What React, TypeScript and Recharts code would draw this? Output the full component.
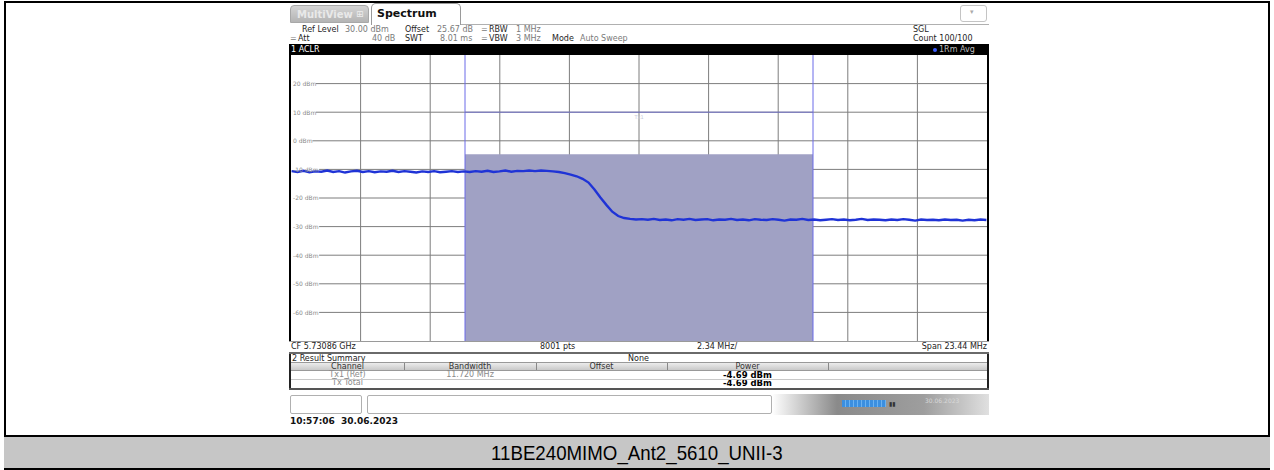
import React from 'react';
import { ComposedChart, Line, XAxis, YAxis, CartesianGrid, ReferenceArea, ReferenceLine, Label } from 'recharts';

// frequency offset from CF 5.73086 GHz, MHz
const FREQ_MHZ = [
  -11.7, -11.5, -11.3, -11.1, -10.9, -10.7, -10.5, -10.3, -10.1, -9.9,
  -9.7, -9.5, -9.3, -9.1, -8.9, -8.7, -8.5, -8.3, -8.1, -7.9,
  -7.7, -7.5, -7.3, -7.1, -6.9, -6.7, -6.5, -6.3, -6.1, -5.9,
  -5.7, -5.5, -5.3, -5.1, -4.9, -4.7, -4.5, -4.3, -4.1, -3.9,
  -3.7, -3.5, -3.3, -3.1, -2.9, -2.7, -2.5, -2.3, -2.1, -1.9,
  -1.7, -1.5, -1.3, -1.1, -0.9, -0.7, -0.5, -0.3, -0.1, 0.1,
  0.3, 0.5, 0.7, 0.9, 1.1, 1.3, 1.5, 1.7, 1.9, 2.1,
  2.3, 2.5, 2.7, 2.9, 3.1, 3.3, 3.5, 3.7, 3.9, 4.1,
  4.3, 4.5, 4.7, 4.9, 5.1, 5.3, 5.5, 5.7, 5.9, 6.1,
  6.3, 6.5, 6.7, 6.9, 7.1, 7.3, 7.5, 7.7, 7.9, 8.1,
  8.3, 8.5, 8.7, 8.9, 9.1, 9.3, 9.5, 9.7, 9.9, 10.1,
  10.3, 10.5, 10.7, 10.9, 11.1, 11.3, 11.5, 11.7,
];

// 1Rm Avg trace, dBm
const TRACE_DBM = [
  -10.6, -10.9, -10.5, -11.0, -10.7, -10.8, -10.4, -10.9, -10.6, -11.1,
  -10.7, -10.5, -10.9, -10.6, -11.0, -10.7, -10.8, -10.5, -10.9, -10.6,
  -10.8, -11.1, -10.7, -10.9, -10.6, -11.0, -10.8, -10.6, -10.9, -10.7,
  -10.9, -10.6, -10.8, -10.5, -10.9, -10.7, -10.4, -10.8, -10.5, -10.6,
  -10.4, -10.6, -10.4, -10.5, -10.7, -10.9, -11.3, -11.8, -12.4, -13.3,
  -14.6, -17.0, -19.8, -22.4, -24.8, -26.3, -27.0, -27.3, -27.5, -27.4,
  -27.6, -27.3, -27.7, -27.5, -27.8, -27.4, -27.6, -27.3, -27.7, -27.5,
  -27.4, -27.8, -27.5, -27.6, -27.3, -27.7, -27.5, -27.8, -27.4, -27.6,
  -27.7, -27.4, -27.6, -27.9, -27.5, -27.6, -27.3, -27.7, -27.5, -27.8,
  -27.6, -27.4, -27.7, -27.5, -27.8, -27.6, -27.3, -27.7, -27.5, -27.6,
  -27.8, -27.5, -27.7, -27.4, -27.6, -27.9, -27.5, -27.7, -27.6, -27.8,
  -27.5, -27.7, -27.6, -27.9, -27.6, -27.8, -27.5, -27.7,
];

const Y_TICKS = [20, 10, 0, -10, -20, -30, -40, -50, -60];
const REF_LEVEL = 30;
const BOTTOM_LEVEL = -70;
const SPAN_MHZ = 23.44;
const X_DIVS = [-9.376, -7.032, -4.688, -2.344, 0, 2.344, 4.688, 7.032, 9.376];
const CHANNEL_BW_MHZ = 11.72;
const CHANNEL_POWER_DBM = -4.69;

const TABLE_COLUMNS = ['Channel', 'Bandwidth', 'Offset', 'Power'];
const TABLE_ROWS = [
  ['Tx1 (Ref)', '11.720 MHz', '', '-4.69 dBm'],
  ['Tx Total', '', '', '-4.69 dBm'],
];

const CAPTION = '11BE240MIMO_Ant2_5610_UNII-3';

const UI = '"DejaVu Sans", Verdana, sans-serif';
const COL_EDGES = [291, 404, 536, 667, 828, 987];

const data = FREQ_MHZ.map((f, i) => ({ f, dbm: TRACE_DBM[i] }));
const half = SPAN_MHZ / 2;
const chHalf = CHANNEL_BW_MHZ / 2;

const abs = (x: number, y: number, extra: React.CSSProperties = {}): React.CSSProperties => ({
  position: 'absolute', left: x, top: y, ...extra,
});

function T({ x, y, children, style }: { x: number; y: number; children: React.ReactNode; style?: React.CSSProperties }) {
  return (
    <div style={abs(x, y, { fontFamily: UI, fontSize: 8, lineHeight: '9px', whiteSpace: 'nowrap', color: '#7a7a7a', ...style })}>
      {children}
    </div>
  );
}

const B: React.CSSProperties = { color: '#1e1e1e' };

function yLabel(v: number) {
  return `${v} dBm`;
}

function HLine(props: any) {
  const v = Y_TICKS[props.index] ?? 0;
  const inset = 5 + yLabel(v).length * 3.3;
  return <line key={props.key} x1={props.x1 + inset} y1={props.y1} x2={props.x2} y2={props.y2} stroke="#7d7d7d" strokeWidth={1} />;
}

function Spectrum() {
  return (
    <ComposedChart width={696} height={286} data={data} margin={{ top: 0, right: 0, bottom: 0, left: 0 }}>
      <XAxis dataKey="f" type="number" domain={[-half, half]} ticks={X_DIVS} hide allowDataOverflow />
      <YAxis type="number" domain={[BOTTOM_LEVEL, REF_LEVEL]} ticks={Y_TICKS} mirror
        axisLine={false} tickLine={false} interval={0} tickMargin={0}
        tick={(p: any) => (
          <text key={p.index} x={2} y={p.y} dy={2.3} fontFamily={UI} fontSize={6} fill="#8a8a8a">
            {yLabel(p.payload.value)}
          </text>
        )} />
      <CartesianGrid stroke="#7d7d7d" strokeDasharray="0" horizontalValues={Y_TICKS} verticalValues={X_DIVS}
        horizontal={(p: any) => <HLine {...p} />} />
      <ReferenceArea x1={-chHalf} x2={chHalf} y1={BOTTOM_LEVEL} y2={CHANNEL_POWER_DBM}
        fill="#a0a1c4" fillOpacity={1} stroke="none" ifOverflow="visible" />
      <ReferenceLine x={-chHalf} stroke="#6a6ae8" strokeWidth={1} />
      <ReferenceLine x={chHalf} stroke="#6a6ae8" strokeWidth={1} />
      <ReferenceLine segment={[{ x: -chHalf, y: 10 }, { x: chHalf, y: 10 }]} stroke="#7272c8" strokeWidth={1}>
        <Label value="Tx1" position="center" dy={5} fontSize={5} fill="#c8c8d8" fontFamily={UI} />
      </ReferenceLine>
      <Line dataKey="dbm" type="linear" stroke="#1f33d6" strokeWidth={2.4} dot={false} isAnimationActive={false} />
    </ComposedChart>
  );
}

export default function App() {
  return (
    <div style={{ position: 'absolute', left: 0, top: 0, width: 1274, height: 470, background: '#fff', overflow: 'hidden' }}>
      {/* outer frame */}
      <div style={abs(4, 1, { width: 1262, height: 465, border: '2px solid #000' })} />

      {/* tabs */}
      <div style={abs(290, 5, { width: 79, height: 18, borderRadius: '4px 4px 0 0', border: '1px solid #a8a8a8',
        background: 'linear-gradient(#d4d4d4, #b4b4b4)', boxSizing: 'border-box' })} />
      <T x={297} y={9} style={{ fontSize: 10, lineHeight: '11px', fontWeight: 'bold', color: '#e9e9e9' }}>MultiView</T>
      <T x={356} y={9} style={{ fontSize: 9, lineHeight: '11px', color: '#eeeeee' }}>⊞</T>
      <div style={abs(371, 3, { width: 90, height: 22, borderRadius: '5px 5px 0 0', border: '1px solid #9a9a9a',
        borderBottom: 'none', background: '#fff', boxSizing: 'border-box' })} />
      <T x={377} y={8} style={{ fontSize: 11, lineHeight: '12px', fontWeight: 'bold', color: '#111' }}>Spectrum</T>
      <div style={abs(461, 24, { width: 528, height: 1, background: '#b0b0b0' })} />
      <div style={abs(960, 5, { width: 27, height: 17, borderRadius: 3, border: '1px solid #c4c4c4', boxSizing: 'border-box' })} />
      <T x={970} y={8} style={{ fontSize: 7, color: '#aaa' }}>▾</T>

      {/* header info */}
      <T x={302} y={25}><span style={B}>Ref Level</span></T>
      <T x={345} y={25}>30.00 dBm</T>
      <T x={405} y={25}><span style={B}>Offset</span></T>
      <T x={437} y={25}>25.67 dB</T>
      <T x={481} y={25}>=</T>
      <T x={489} y={25}><span style={B}>RBW</span></T>
      <T x={516} y={25}>1 MHz</T>
      <T x={290} y={34}>=</T>
      <T x={298} y={34}><span style={B}>Att</span></T>
      <T x={372} y={34}>40 dB</T>
      <T x={405} y={34}><span style={B}>SWT</span></T>
      <T x={440} y={34}>8.01 ms</T>
      <T x={481} y={34}>=</T>
      <T x={489} y={34}><span style={B}>VBW</span></T>
      <T x={516} y={34}>3 MHz</T>
      <T x={552} y={34}><span style={B}>Mode</span></T>
      <T x={580} y={34}>Auto Sweep</T>
      <T x={913} y={25} style={B}>SGL</T>
      <T x={913} y={34} style={B}>Count 100/100</T>

      {/* ACLR bar */}
      <div style={abs(289, 44, { width: 700, height: 11, background: '#000' })} />
      <T x={291} y={45} style={{ color: '#fff', fontSize: 8 }}>1 ACLR</T>
      <div style={abs(933, 48, { width: 4, height: 4, borderRadius: 2, background: '#3a5cff' })} />
      <T x={939} y={45} style={{ color: '#bdbdbd', fontSize: 8 }}>1Rm Avg</T>

      {/* plot frame */}
      <div style={abs(289, 55, { width: 2, height: 286, background: '#000' })} />
      <div style={abs(987, 55, { width: 2, height: 286, background: '#000' })} />
      <div style={abs(291, 55)}>
        <Spectrum />
      </div>

      {/* footer row */}
      <div style={abs(289, 341, { width: 700, height: 1, background: '#9a9a9a' })} />
      <T x={291} y={342} style={{ color: '#222' }}>CF 5.73086 GHz</T>
      <T x={540} y={342} style={{ color: '#222' }}>8001 pts</T>
      <T x={697} y={342} style={{ color: '#222' }}>2.34 MHz/</T>
      <div style={abs(787, 342, { width: 200, textAlign: 'right', fontFamily: UI, fontSize: 8, lineHeight: '9px', color: '#222' })}>Span 23.44 MHz</div>
      <div style={abs(289, 352, { width: 700, height: 2, background: '#6a6a6a' })} />

      {/* result summary */}
      <div style={abs(289, 354, { width: 2, height: 36, background: '#222' })} />
      <div style={abs(987, 354, { width: 2, height: 36, background: '#222' })} />
      <T x={292} y={354} style={{ color: '#222' }}>2 Result Summary</T>
      <T x={628} y={354} style={{ color: '#222' }}>None</T>
      <div style={abs(291, 362, { width: 696, height: 9, background: 'linear-gradient(#ececec, #c9c9c9)',
        borderTop: '1px solid #999', borderBottom: '1px solid #999', boxSizing: 'border-box' })} />
      {TABLE_COLUMNS.map((c, i) => (
        <div key={c} style={abs(COL_EDGES[i], 362, { width: COL_EDGES[i + 1] - COL_EDGES[i], textAlign: 'center',
          fontFamily: UI, fontSize: 8, lineHeight: '9px', color: '#333' })}>{c}</div>
      ))}
      {COL_EDGES.slice(1, 5).map((x) => (
        <div key={x} style={abs(x, 363, { width: 1, height: 7, background: '#888' })} />
      ))}
      {TABLE_ROWS.map((row, r) => (
        <React.Fragment key={r}>
          {row.map((cell, i) => (
            <div key={i} style={abs(COL_EDGES[i], 371 + r * 8, { width: COL_EDGES[i + 1] - COL_EDGES[i], textAlign: 'center',
              fontFamily: UI, fontSize: i === 3 ? 8.5 : 8, lineHeight: '8px', whiteSpace: 'nowrap',
              color: i === 3 ? '#000' : '#8a8a8a', fontWeight: i === 3 ? 'bold' : 'normal' })}>{cell}</div>
          ))}
        </React.Fragment>
      ))}
      <div style={abs(291, 379, { width: 696, height: 1, background: '#c8c8c8' })} />
      <div style={abs(289, 388, { width: 700, height: 2, background: '#555' })} />

      {/* status bar */}
      <div style={abs(290, 395, { width: 72, height: 19, border: '1px solid #b0b0b0', borderRadius: 2, boxSizing: 'border-box' })} />
      <div style={abs(367, 395, { width: 405, height: 19, border: '1px solid #b0b0b0', borderRadius: 2, boxSizing: 'border-box' })} />
      <div style={abs(772, 394, { width: 217, height: 21, background: 'linear-gradient(90deg, #ffffff 0%, #8a8a8a 30%, #9e9e9e 70%, #e0e0e0 100%)' })} />
      <div style={abs(842, 400, { width: 44, height: 7, background: 'repeating-linear-gradient(90deg, #3b8fe0 0px, #3b8fe0 3px, #6cb2f0 3px, #6cb2f0 4px)' })} />
      <T x={889} y={399} style={{ color: '#333', fontSize: 6 }}>▮▮</T>
      <T x={925} y={396} style={{ color: '#d8d8d8', fontSize: 6 }}>30.06.2023</T>

      <T x={290} y={416} style={{ color: '#111', fontWeight: 'bold', fontSize: 9, lineHeight: '10px' }}>10:57:06&nbsp;&nbsp;30.06.2023</T>

      {/* caption band */}
      <div style={abs(4, 435, { width: 1266, height: 33, background: '#c6c6c6', borderTop: '2px solid #000', boxSizing: 'border-box',
        display: 'flex', alignItems: 'center', justifyContent: 'center' })}>
        <span style={{ fontFamily: '"Liberation Sans", Arial, sans-serif', fontSize: 21, color: '#000',
          display: 'inline-block', transform: 'scaleX(0.89)' }}>{CAPTION}</span>
      </div>
    </div>
  );
}
